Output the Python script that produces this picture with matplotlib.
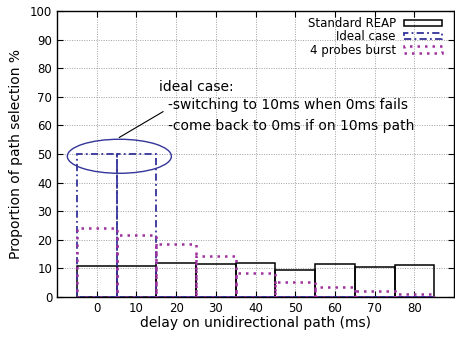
import matplotlib
matplotlib.use("Agg")
import matplotlib.pyplot as plt
from matplotlib.patches import Ellipse, Patch

# delay categories (ms)
delays = [0, 10, 20, 30, 40, 50, 60, 70, 80]
# percentage of path selection per series
standard_reap = [10.8, 10.8, 12.0, 11.5, 11.8, 9.3, 11.6, 10.5, 11.3]
ideal_case = [50, 50, 0, 0, 0, 0, 0, 0, 0]
probes_burst = [24.2, 21.7, 18.4, 14.3, 8.4, 5.4, 3.5, 2.1, 0.9]

blue = "#34349a"
purple = "#a0309f"

fig = plt.figure(figsize=(4.55, 3.38), dpi=100)
ax = fig.add_axes([0.1253, 0.1213, 0.8727, 0.8462])

ax.bar(delays, standard_reap, width=10, fill=False, edgecolor="black",
       linewidth=1.1, zorder=3)
ax.bar(delays, ideal_case, width=10, fill=False, edgecolor=blue,
       linewidth=1.3, linestyle=(0, (4, 1.8, 1, 1.8)), zorder=4)
ax.bar(delays, probes_burst, width=10, fill=False, edgecolor=purple,
       linewidth=1.8, linestyle=(0, (1, 2)), zorder=5)

ax.add_patch(Ellipse((5.7, 49.2), 26.2, 11.9, fill=False, edgecolor=blue,
                     linewidth=1.0, zorder=6))
ax.plot([5.7, 16.7], [55.8, 64.8], color="black", linewidth=0.8, zorder=6)
ax.text(15.7, 72.0, "ideal case:", fontsize=10, va="baseline", zorder=7)
ax.text(17.9, 65.6, "-switching to 10ms when 0ms fails", fontsize=10,
        va="baseline", zorder=7)
ax.text(17.9, 58.3, "-come back to 0ms if on 10ms path", fontsize=10,
        va="baseline", zorder=7)

ax.set_xlim(-10, 90)
ax.set_ylim(0, 100)
ax.set_xticks(delays)
ax.set_yticks(range(0, 101, 10))
ax.tick_params(direction="in", top=True, right=True, labelsize=8.5,
               length=4, width=0.8)
ax.grid(True, linestyle=(0, (1, 1.5)), color="#a0a0a0", linewidth=0.7,
        zorder=0)
ax.set_axisbelow(True)
for sp in ax.spines.values():
    sp.set_linewidth(1.0)

ax.set_xlabel("delay on unidirectional path (ms)", fontsize=10, labelpad=1)
ax.set_ylabel("Proportion of path selection %", fontsize=10, labelpad=5)

handles = [
    Patch(fill=False, edgecolor="black", linewidth=1.1),
    Patch(fill=False, edgecolor=blue, linewidth=1.3,
          linestyle=(0, (4, 1.8, 1, 1.8))),
    Patch(fill=False, edgecolor=purple, linewidth=1.8, linestyle=(0, (1, 2))),
]
ax.legend(handles, ["Standard REAP", "Ideal case", "4 probes burst"],
          loc="upper right", bbox_to_anchor=(0.985, 1.0), frameon=False,
          markerfirst=False, fontsize=8.5, handlelength=3.2,
          handleheight=0.45, labelspacing=0.02, handletextpad=0.7,
          borderaxespad=0.12)

fig.savefig("out.png", dpi=100)
